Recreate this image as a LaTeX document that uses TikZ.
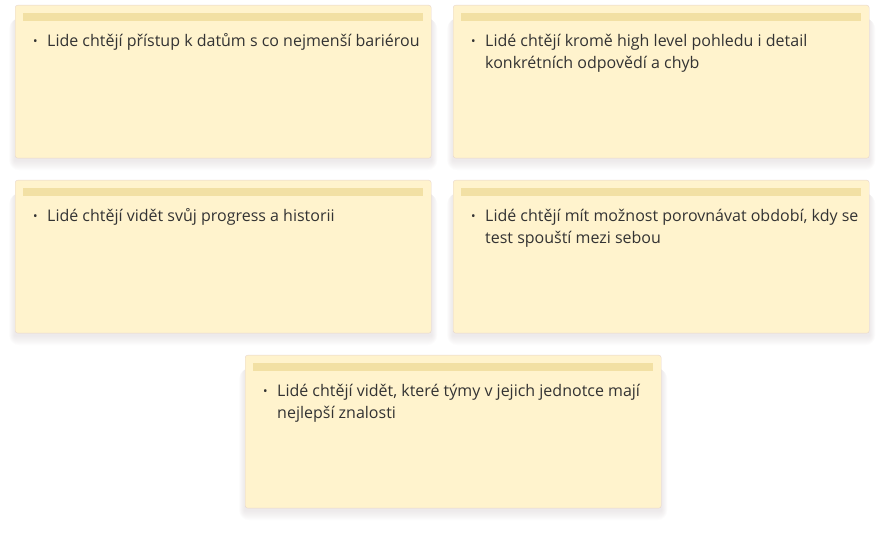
\documentclass[tikz,border=0pt]{standalone}
\usepackage{fontspec}
\setmainfont{Open Sans}
\usetikzlibrary{positioning,backgrounds}

\definecolor{notebg}{HTML}{FFF3CD}
\definecolor{notebd}{HTML}{E8D5CC}
\definecolor{notebar}{HTML}{F2E0A4}
\definecolor{notetext}{HTML}{333333}
\definecolor{noteshade}{HTML}{9A8A8E}

\begin{document}
\begin{tikzpicture}[x=1pt,y=1pt,
    note/.style={draw=notebd,fill=notebg,rounded corners=2.5pt,inner sep=0pt,
      minimum width=416pt,minimum height=153pt,anchor=north west},
    shade/.style={fill=noteshade,opacity=0.02},
    bar/.style={fill=notebar,inner sep=0pt,minimum width=400pt,minimum height=8pt,anchor=north west},
    dot/.style={inner sep=0pt,anchor=base west,text=notetext,font=\fontsize{12}{12}\selectfont},
    line/.style={inner sep=0pt,anchor=base west,text=notetext,font=\fontsize{16}{19}\selectfont}]

    \useasboundingbox (0,0) rectangle (884,533);

    % define the notes

    \node[note] (n1) at (15,528)  {};
    \node[note] (n2) at (453,528) {};
    \node[note] (n3) at (15,353)  {};
    \node[note] (n4) at (453,353) {};
    \node[note] (n5) at (245,178) {};

    % soft shadows, header bars and bullets

    \foreach \n in {n1,n2,n3,n4,n5} {
        \begin{scope}[on background layer]
            \foreach \r in {1,...,10}
                \fill[shade,rounded corners=\r pt]
                    ([xshift=-0.6*\r pt,yshift=-\r pt-2pt]\n.south west) rectangle ([xshift=0.6*\r pt,yshift=-14pt]\n.north east);
        \end{scope}
        \node[bar] (\n bar) [below right=8pt and 8pt of \n.north west] {};
        \node[dot] (\n dot) [below right=41pt and 18pt of \n.north west, anchor=base west] {•};
    }

    % texts

    \node[line] (t1)  [below right=42pt and 32pt of n1.north west, anchor=base west] {Lide chtějí přístup k datům s co nejmenší bariérou};

    \node[line] (t2a) [below right=42pt and 32pt of n2.north west, anchor=base west] {Lidé chtějí kromě high level pohledu i detail};
    \node[line] (t2b) [below right=64pt and 32pt of n2.north west, anchor=base west] {konkrétních odpovědí a chyb};

    \node[line] (t3)  [below right=42pt and 32pt of n3.north west, anchor=base west] {Lidé chtějí vidět svůj progress a historii};

    \node[line] (t4a) [below right=42pt and 32pt of n4.north west, anchor=base west] {Lidé chtějí mít možnost porovnávat období, kdy se};
    \node[line] (t4b) [below right=64pt and 32pt of n4.north west, anchor=base west] {test spouští mezi sebou};

    \node[line] (t5a) [below right=42pt and 32pt of n5.north west, anchor=base west] {Lidé chtějí vidět, které týmy v jejich jednotce mají};
    \node[line] (t5b) [below right=64pt and 32pt of n5.north west, anchor=base west] {nejlepší znalosti};

\end{tikzpicture}
\end{document}
